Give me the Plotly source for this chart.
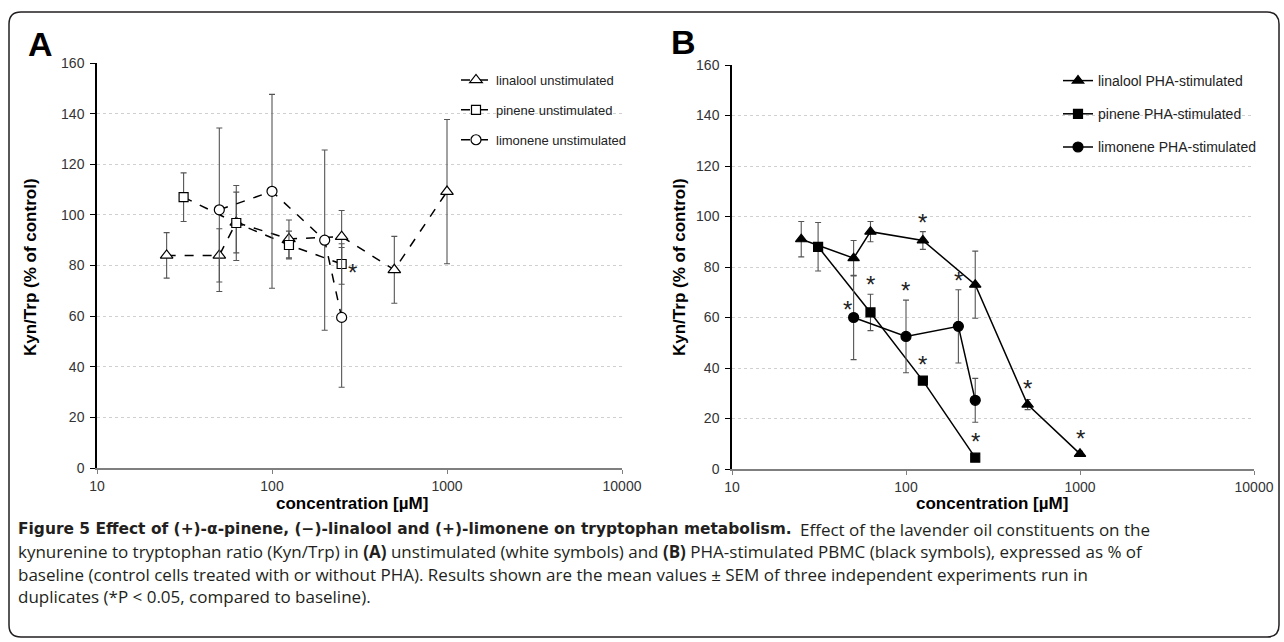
import math
import plotly.graph_objects as go

# ---------------- data ----------------
conc_linalool = [25, 50, 62.5, 125, 250, 500, 1000]
conc_pinene = [31.25, 62.5, 125, 250]
conc_limonene = [50, 100, 200, 250]

# Panel A: unstimulated (mean, SEM)
lin_unstim = [84, 84, 97, 90.5, 91.4, 78.3, 109.2]
lin_unstim_sem = [9, 10.5, 12, 7.5, 10.3, 13.2, 28.5]
pin_unstim = [107, 96.8, 88.1, 80.6]
pin_unstim_sem = [9.6, 14.8, 5.5, 8]
lim_unstim = [102, 109.3, 90, 59.5]
lim_unstim_sem = [32.3, 38.3, 35.6, 27.6]

# Panel B: PHA-stimulated (mean, SEM)
lin_pha = [91, 83.5, 94, 90.5, 73, 25.5, 6]
lin_pha_sem = [7, 7, 4, 3.5, 13.3, 2, 1]
pin_pha = [88, 62, 35, 4.5]
pin_pha_sem = [9.6, 7.2, 1.5, 0.8]
lim_pha = [60, 52.5, 56.5, 27.2]
lim_pha_sem = [16.7, 14.4, 14.5, 8.7]

# significance marks (None / "top" / "left" / "right")
sig_lin_unstim = [None] * 7
sig_pin_unstim = [None, None, None, "right"]
sig_lim_unstim = [None] * 4
sig_lin_pha = [None, None, None, "top", None, "top", "top"]
sig_pin_pha = [None, "top", "top", "top"]
sig_lim_pha = ["left", "top", "top", None]

x_ticks = [10, 100, 1000, 10000]
x_ticktext = ["10", "100", "1000", "10000"]
y_ticks = [0, 20, 40, 60, 80, 100, 120, 140, 160]

W, H = 1284, 642
def px(x):
    return x / W
def py(y):
    return 1 - y / H

FONT = "Liberation Sans, Arial, sans-serif"
CAP_FONT = "Open Sans, sans-serif"
CAP_BOLD_FONT = "DejaVu Sans, sans-serif"

fig = go.Figure()

def add_series(x, y, e, name, symbol, fill, dash, xa, ya, legend, size):
    fig.add_trace(go.Scatter(
        x=x, y=y, name=name, mode="lines+markers",
        xaxis=xa, yaxis=ya, legend=legend, legendgroup=name,
        line=dict(color="black", width=1.5, dash=dash),
        marker=dict(symbol=symbol, size=size, color=fill,
                    line=dict(color="black", width=1.2)),
        error_y=dict(type="data", array=e, color="#555555", thickness=1.1, width=3),
    ))

add_series(conc_linalool, lin_unstim, lin_unstim_sem, "linalool unstimulated",
           "triangle-up", "white", "dash", "x", "y", "legend", 11)
add_series(conc_pinene, pin_unstim, pin_unstim_sem, "pinene unstimulated",
           "square", "white", "dash", "x", "y", "legend", 9)
add_series(conc_limonene, lim_unstim, lim_unstim_sem, "limonene unstimulated",
           "circle", "white", "dash", "x", "y", "legend", 10)

add_series(conc_linalool, lin_pha, lin_pha_sem, "linalool PHA-stimulated",
           "triangle-up", "black", "solid", "x2", "y2", "legend2", 10)
add_series(conc_pinene, pin_pha, pin_pha_sem, "pinene PHA-stimulated",
           "square", "black", "solid", "x2", "y2", "legend2", 9)
add_series(conc_limonene, lim_pha, lim_pha_sem, "limonene PHA-stimulated",
           "circle", "black", "solid", "x2", "y2", "legend2", 10)

annotations = []

def add_stars(x, y, e, sig, xr, yr):
    for xi, yi, ei, s in zip(x, y, e, sig):
        if s is None:
            continue
        a = dict(text="*", showarrow=False, xref=xr, yref=yr,
                 x=math.log10(xi), font=dict(family=FONT, size=24, color="#222"))
        if s == "top":
            a.update(y=max(yi + ei, yi + 2.5), yanchor="bottom", xanchor="center", yshift=-6)
        elif s == "left":
            a.update(y=yi, yanchor="bottom", xanchor="right", xshift=0, yshift=-7)
        elif s == "right":
            a.update(y=yi, yanchor="middle", xanchor="left", xshift=4, yshift=-9)
        annotations.append(a)

add_stars(conc_pinene, pin_unstim, pin_unstim_sem, sig_pin_unstim, "x", "y")
add_stars(conc_linalool, lin_pha, lin_pha_sem, sig_lin_pha, "x2", "y2")
add_stars(conc_pinene, pin_pha, pin_pha_sem, sig_pin_pha, "x2", "y2")
add_stars(conc_limonene, lim_pha, lim_pha_sem, sig_lim_pha, "x2", "y2")

def paper_text(text, x, y, size, family=FONT, xanchor="center", angle=0, color="black"):
    annotations.append(dict(text=text, x=px(x), y=py(y), xref="paper", yref="paper",
                            xanchor=xanchor, yanchor="middle", textangle=angle,
                            showarrow=False, font=dict(family=family, size=size, color=color)))

# axis titles and panel letters
paper_text("<b>Kyn/Trp (% of control)</b>", 30, 267, 17, angle=-90)
paper_text("<b>Kyn/Trp (% of control)</b>", 679, 267, 17, angle=-90)
paper_text("<b>concentration [µM]</b>", 352, 503, 17)
paper_text("<b>concentration [µM]</b>", 992, 503, 17)
paper_text("<b>A</b>", 40, 44, 34)
paper_text("<b>B</b>", 684, 42, 34)

# caption
cap_title = "<b>Figure 5 Effect of (+)-α-pinene, (−)-linalool and (+)-limonene on tryptophan metabolism.</b>"
cap_line1_rest = "Effect of the lavender oil constituents on the"
caption_lines = [
    "kynurenine to tryptophan ratio (Kyn/Trp) in <b>(A)</b> unstimulated (white symbols) and <b>(B)</b> "
    "PHA-stimulated PBMC (black symbols), expressed as % of",
    "baseline (control cells treated with or without PHA). Results shown are the mean values ± SEM "
    "of three independent experiments run in",
    "duplicates (*P < 0.05, compared to baseline).",
]
paper_text(cap_title, 16, 529, 15.45, family=CAP_BOLD_FONT, xanchor="left", color="#231f20")
paper_text(cap_line1_rest, 1152, 529, 17, family=CAP_FONT, xanchor="right", color="#231f20")
for i, line in enumerate(caption_lines):
    paper_text(line, 16, 551.5 + i * 22.5, 17, family=CAP_FONT, xanchor="left", color="#231f20")

# rounded border
x0, y0, x1, y1, r = 9, 12, 1279, 637, 12
path = (f"M {px(x0+r)},{py(y0)} L {px(x1-r)},{py(y0)} Q {px(x1)},{py(y0)} {px(x1)},{py(y0+r)} "
        f"L {px(x1)},{py(y1-r)} Q {px(x1)},{py(y1)} {px(x1-r)},{py(y1)} "
        f"L {px(x0+r)},{py(y1)} Q {px(x0)},{py(y1)} {px(x0)},{py(y1-r)} "
        f"L {px(x0)},{py(y0+r)} Q {px(x0)},{py(y0)} {px(x0+r)},{py(y0)} Z")
shapes = [dict(type="path", path=path, xref="paper", yref="paper",
               line=dict(color="#231f20", width=1.5))]

xaxis_common = dict(type="log", range=[1, 4], tickvals=x_ticks, ticktext=x_ticktext,
                    showline=True, linecolor="#7f7f7f", linewidth=2, ticks="outside",
                    ticklen=4, tickcolor="#7f7f7f", showgrid=False, zeroline=False,
                    tickfont=dict(family=FONT, size=14, color="#333"), automargin=False,
                    fixedrange=True)
yaxis_common = dict(range=[0, 160], tickvals=y_ticks, showline=True, linecolor="black",
                    linewidth=1.5, ticks="outside", ticklen=5, tickcolor="black",
                    showgrid=True, gridcolor="#d0d0d0", griddash="dot", gridwidth=1,
                    zeroline=False, tickfont=dict(family=FONT, size=14, color="#333"),
                    ticklabelstandoff=3, automargin=False, fixedrange=True)

fig.update_layout(
    width=W, height=H, margin=dict(l=0, r=0, t=0, b=0),
    paper_bgcolor="white", plot_bgcolor="white",
    xaxis=dict(domain=[px(97), px(622)], anchor="y", **xaxis_common),
    yaxis=dict(domain=[py(468), py(63)], anchor="x", **yaxis_common),
    xaxis2=dict(domain=[px(732), px(1254)], anchor="y2", **xaxis_common),
    yaxis2=dict(domain=[py(469), py(65)], anchor="x2", **yaxis_common),
    legend=dict(x=px(456), y=py(65), xanchor="left", yanchor="top", bgcolor="rgba(0,0,0,0)",
                font=dict(family=FONT, size=13, color="#222"), tracegroupgap=10,
                itemwidth=30),
    legend2=dict(x=px(1058), y=py(65), xanchor="left", yanchor="top", bgcolor="rgba(0,0,0,0)",
                 font=dict(family=FONT, size=14, color="#222"), tracegroupgap=12,
                 itemwidth=30),
    annotations=annotations, shapes=shapes, showlegend=True,
)

fig.write_html("out.html", config={"displayModeBar": False},
               post_script="document.body.style.margin='0px';")
